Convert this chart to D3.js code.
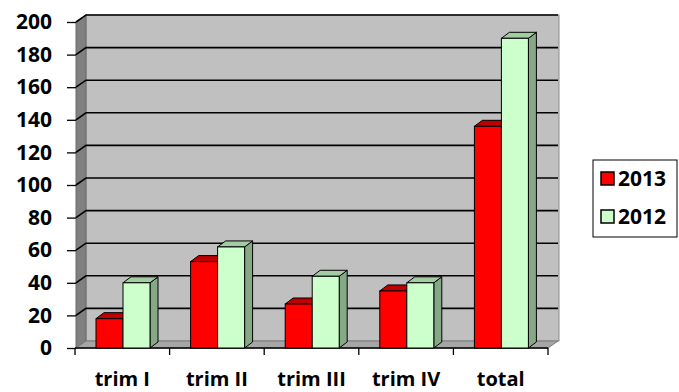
<!DOCTYPE html>
<html>
<head>
<meta charset="utf-8">
<script src="https://cdn.jsdelivr.net/npm/d3@7"></script>
<style>
  body { margin: 0; background: #fff; }
  svg text { font-family: "Open Sans", Lato, sans-serif; font-weight: bold; fill: #000; }
</style>
</head>
<body>
<div id="graph-container"></div>
<script>
// Dati del grafico
const categorie = ["trim I", "trim II", "trim III", "trim IV", "total"];
const serie = ["2013", "2012"];
const valori2013 = [18, 53, 27, 35, 136];
const valori2012 = [40, 62, 44, 40, 190];
const tickY = [0, 20, 40, 60, 80, 100, 120, 140, 160, 180, 200];

// Colori per ogni serie: fronte, sopra, lato
const colori = {
  "2013": { front: "#ff0000", top: "#c00000", side: "#a00000" },
  "2012": { front: "#ccffcc", top: "#a3cca3", side: "#86a886" }
};

function drawChart() {
  const width = 679, height = 392;
  const svg = d3.select("#graph-container").append("svg")
      .attr("width", width)
      .attr("height", height);

  // Profondità 3D della parete e delle barre
  const wall = { dx: 10, dy: -7 };
  const bar = { dx: 8, dy: -6 };

  const x = d3.scaleBand().domain(categorie).range([75, 548]);
  const xInner = d3.scaleBand().domain(serie).range([21, 75]);
  const y = d3.scaleLinear().domain([0, 200]).range([348, 22]);

  const x0 = x.range()[0], x1 = x.range()[1];
  const yTop = y(200), yBot = y(0);

  // Parete di fondo
  svg.append("rect")
      .attr("x", x0 + wall.dx + 1)
      .attr("y", yTop + wall.dy)
      .attr("width", x1 - x0)
      .attr("height", yBot - yTop)
      .attr("fill", "#c0c0c0")
      .attr("stroke", "#8c8c8c");

  // Parete sinistra
  svg.append("polygon")
      .attr("points", [[x0 + 1, yTop], [x0 + wall.dx + 1, yTop + wall.dy],
                       [x0 + wall.dx + 1, yBot + wall.dy], [x0 + 1, yBot]].join(" "))
      .attr("fill", "#808080")
      .attr("stroke", "#6a6a6a");

  // Pavimento
  svg.append("polygon")
      .attr("points", [[x0 + 1, yBot], [x0 + wall.dx + 1, yBot + wall.dy],
                       [x1 + wall.dx, yBot + wall.dy], [x1, yBot]].join(" "))
      .attr("fill", "#a6a6a6")
      .attr("stroke", "#7a7a7a");

  // Griglia
  const grid = svg.append("g");
  tickY.filter(v => v > 0).forEach(v => {
    grid.append("path")
        .attr("d", `M${x0 + 1},${y(v)} L${x0 + wall.dx + 1},${y(v) + wall.dy} L${x1 + wall.dx},${y(v) + wall.dy}`)
        .attr("fill", "none")
        .attr("stroke", "#000")
        .attr("stroke-width", 1.6);
  });

  // Asse Y
  const yAxis = svg.append("g")
      .attr("transform", `translate(${x0 + 1},0)`)
      .call(d3.axisLeft(y).tickValues(tickY).tickSize(9).tickPadding(15));
  yAxis.select(".domain").remove();
  yAxis.selectAll("line").attr("stroke", "#000").attr("stroke-width", 1.3);
  yAxis.selectAll("text").attr("font-size", "21px").attr("font-family", null);

  // Asse X
  const xAxis = svg.append("g")
      .attr("transform", `translate(0,${yBot})`);
  xAxis.append("line")
      .attr("x1", x0).attr("x2", x1)
      .attr("stroke", "#000").attr("stroke-width", 1.3);
  x.domain().concat([null]).forEach((c, i) => {
    const xx = i < categorie.length ? x(c) : x1;
    xAxis.append("line")
        .attr("x1", xx).attr("x2", xx)
        .attr("y1", 0).attr("y2", 7)
        .attr("stroke", "#000").attr("stroke-width", 1.3);
  });
  xAxis.selectAll(".label")
      .data(categorie)
      .enter().append("text")
      .attr("class", "label")
      .attr("x", d => x(d) + x.bandwidth() / 2)
      .attr("y", 38)
      .attr("text-anchor", "middle")
      .attr("font-size", "20px")
      .text(d => d);

  // Barre 3D
  const dati = [];
  categorie.forEach((c, i) => {
    dati.push({ cat: c, serie: "2013", value: valori2013[i] });
    dati.push({ cat: c, serie: "2012", value: valori2012[i] });
  });

  const bars = svg.selectAll(".bar")
      .data(dati)
      .enter().append("g")
      .attr("class", "bar")
      .attr("transform", d => `translate(${x(d.cat) + xInner(d.serie)},0)`);

  const bw = xInner.bandwidth();

  bars.append("polygon")
      .attr("points", d => [[bw, y(d.value)], [bw + bar.dx, y(d.value) + bar.dy],
                            [bw + bar.dx, yBot + bar.dy], [bw, yBot]].join(" "))
      .attr("fill", d => colori[d.serie].side)
      .attr("stroke", "#000")
      .attr("stroke-width", 1);

  bars.append("polygon")
      .attr("points", d => [[0, y(d.value)], [bar.dx, y(d.value) + bar.dy],
                            [bw + bar.dx, y(d.value) + bar.dy], [bw, y(d.value)]].join(" "))
      .attr("fill", d => colori[d.serie].top)
      .attr("stroke", "#000")
      .attr("stroke-width", 1);

  bars.append("rect")
      .attr("x", 0)
      .attr("y", d => y(d.value))
      .attr("width", bw)
      .attr("height", d => yBot - y(d.value))
      .attr("fill", d => colori[d.serie].front)
      .attr("stroke", "#000")
      .attr("stroke-width", 1);

  // Legenda
  const legend = svg.append("g").attr("transform", "translate(593,160)");
  legend.append("rect")
      .attr("width", 84).attr("height", 77)
      .attr("fill", "#fff").attr("stroke", "#000");
  serie.forEach((s, i) => {
    const row = legend.append("g").attr("transform", `translate(8,${19 + i * 38})`);
    row.append("rect")
        .attr("x", 0).attr("y", -7)
        .attr("width", 13).attr("height", 13)
        .attr("fill", colori[s].front)
        .attr("stroke", "#000").attr("stroke-width", 1.5);
    row.append("text")
        .attr("x", 17).attr("y", 7)
        .attr("font-size", "21px")
        .text(s);
  });
}

if (document.readyState === "loading") {
  document.addEventListener("DOMContentLoaded", drawChart);
} else {
  drawChart();
}
</script>
</body>
</html>
